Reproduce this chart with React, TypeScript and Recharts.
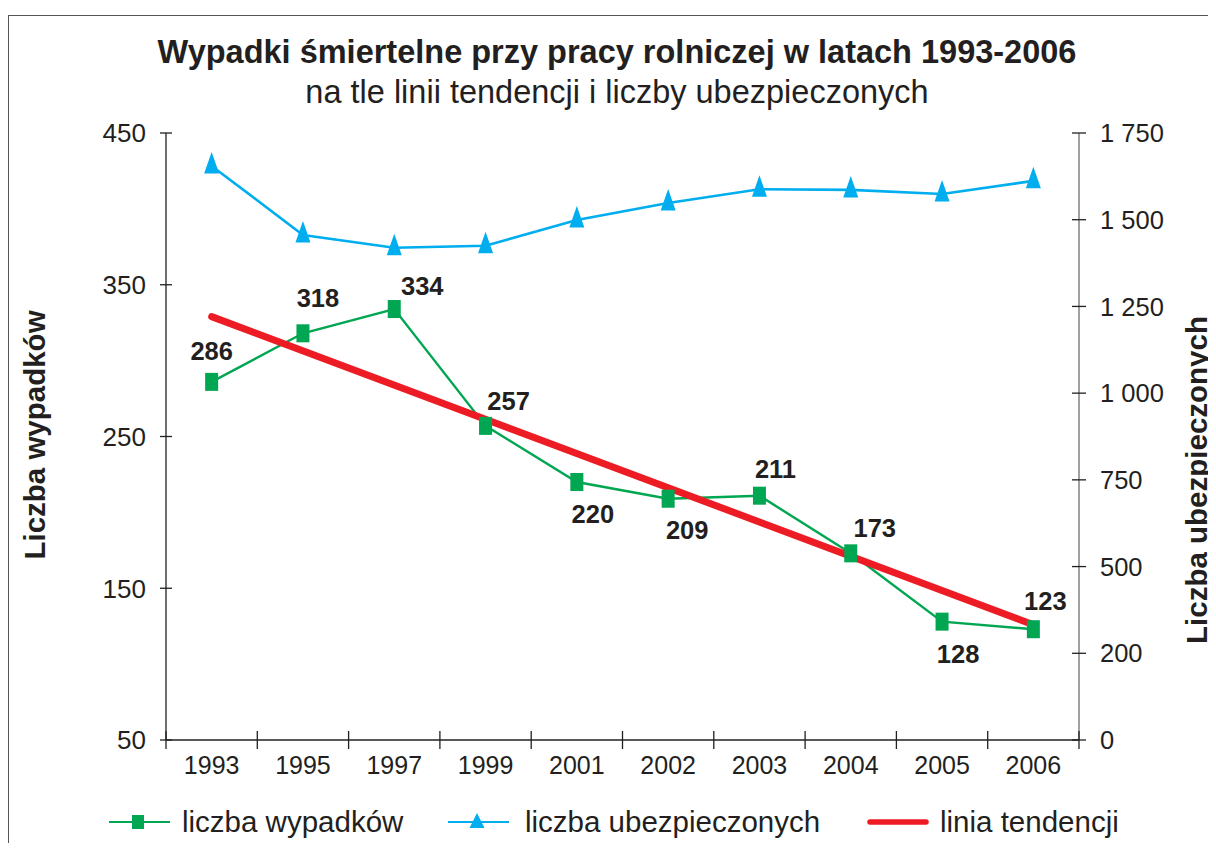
import React from 'react';
import { LineChart, Line, XAxis, YAxis, LabelList } from 'recharts';

const years = ['1993', '1995', '1997', '1999', '2001', '2002', '2003', '2004', '2005', '2006'];
const wypadki = [286, 318, 334, 257, 220, 209, 211, 173, 128, 123];
const ubezpieczeni = [1655, 1456, 1419, 1425, 1499, 1548, 1588, 1586, 1574, 1612];
const tendencja = [329, null, null, null, null, null, null, null, null, 126];

const leftTicks = [50, 150, 250, 350, 450];
const rightTicks = [0, 250, 500, 750, 1000, 1250, 1500, 1750];
const rightTickLabels = ['0', '200', '500', '750', '1 000', '1 250', '1 500', '1 750'];

const data = years.map((rok, i) => ({
  rok,
  wypadki: wypadki[i],
  ubezpieczeni: ubezpieczeni[i],
  tendencja: tendencja[i],
}));

const FONT = '"Liberation Sans", Arial, Helvetica, sans-serif';
const TEXT = '#231f20';
const GREEN = '#00a651';
const BLUE = '#00aeef';
const RED = '#ed1c24';

const W = 1200;
const H = 835;
const MARGIN = { top: 125, right: 69, bottom: 102, left: 98 };
const AXIS_W = 60;
const PLOT_W = W - MARGIN.left - MARGIN.right - 2 * AXIS_W;
const BAND = PLOT_W / years.length;

// label offsets (dx, dy) relative to each point
const labelOffsets = [
  [0, -31], [15, -35], [28, -23], [23, -25], [16, 32],
  [19, 31], [16, -27], [24, -26], [16, 32], [12, -28],
];

function LeftTick(props: any) {
  const { x, y, payload } = props;
  return (
    <g>
      <line x1={x - 6} x2={x + 6} y1={y} y2={y} stroke={TEXT} strokeWidth={1.3} />
      <text x={x - 20} y={y} dy="0.36em" textAnchor="end" fontSize={26} fill={TEXT} fontFamily={FONT}>
        {payload.value}
      </text>
    </g>
  );
}

function RightTick(props: any) {
  const { x, y, payload } = props;
  const label = rightTickLabels[rightTicks.indexOf(payload.value)];
  return (
    <g>
      <line x1={x - 7} x2={x + 7} y1={y} y2={y} stroke={TEXT} strokeWidth={1.3} />
      <text x={x + 21} y={y} dy="0.36em" textAnchor="start" fontSize={25.5} fill={TEXT} fontFamily={FONT}>
        {label}
      </text>
    </g>
  );
}

function BottomTick(props: any) {
  const { x, y, payload, index } = props;
  const left = x - BAND / 2;
  const right = x + BAND / 2;
  return (
    <g>
      <line x1={left} x2={left} y1={y - 9} y2={y + 9} stroke={TEXT} strokeWidth={1.3} />
      {index === years.length - 1 && (
        <line x1={right} x2={right} y1={y - 9} y2={y + 9} stroke={TEXT} strokeWidth={1.3} />
      )}
      <text x={x} y={y + 25} dy="0.36em" textAnchor="middle" fontSize={25} fill={TEXT} fontFamily={FONT}>
        {payload.value}
      </text>
    </g>
  );
}

function SquareDot(props: any) {
  const { cx, cy, index } = props;
  if (cx == null || cy == null) return <g key={`sq-${index}`} />;
  return <rect key={`sq-${index}`} x={cx - 6.5} y={cy - 9} width={13} height={18} fill={GREEN} />;
}

function TriangleDot(props: any) {
  const { cx, cy, index } = props;
  if (cx == null || cy == null) return <g key={`tr-${index}`} />;
  return (
    <polygon
      key={`tr-${index}`}
      points={`${cx},${cy - 14} ${cx - 7.5},${cy + 7.5} ${cx + 7.5},${cy + 7.5}`}
      fill={BLUE}
    />
  );
}

function ValueLabel(props: any) {
  const { x, y, value, index } = props;
  const [dx, dy] = labelOffsets[index] || [0, -30];
  return (
    <text
      x={x + dx}
      y={y + dy}
      dy="0.36em"
      textAnchor="middle"
      fontSize={25.5}
      fontWeight="bold"
      fill={TEXT}
      fontFamily={FONT}
    >
      {value}
    </text>
  );
}

function LegendItem({ left, color, marker, label }: { left: number; color: string; marker: string; label: string }) {
  return (
    <div style={{ position: 'absolute', left, top: 814, transform: 'translateY(-50%)', display: 'flex', alignItems: 'center' }}>
      <svg width={62} height={22} style={{ overflow: 'visible' }}>
        {marker === 'thick' ? (
          <line x1={3} x2={59} y1={11} y2={11} stroke={color} strokeWidth={5.5} strokeLinecap="round" />
        ) : (
          <line x1={0} x2={61} y1={11} y2={11} stroke={color} strokeWidth={2.2} />
        )}
        {marker === 'square' && <rect x={23} y={4} width={12} height={14} fill={color} />}
        {marker === 'triangle' && <polygon points="29,2 21.5,17 36.5,17" fill={color} />}
      </svg>
      <span style={{ marginLeft: marker === 'triangle' ? 15 : 11, fontSize: 29.5, color: TEXT, whiteSpace: 'nowrap' }}>
        {label}
      </span>
    </div>
  );
}

const rotated: React.CSSProperties = {
  position: 'absolute',
  left: 0,
  top: 0,
  transform: 'translate(-50%, -50%) rotate(-90deg)',
  whiteSpace: 'nowrap',
  fontSize: 29.5,
  fontWeight: 'bold',
  color: TEXT,
};

export default function App() {
  return (
    <div style={{ position: 'relative', width: 1208, height: H, overflow: 'hidden', fontFamily: FONT, background: '#fff' }}>
      <div
        style={{
          position: 'absolute',
          left: 0,
          top: 7,
          width: 1300,
          height: 1000,
          borderLeft: '1.5px solid #555',
          borderTop: '1.5px solid #555',
        }}
      />
      <div style={{ position: 'absolute', left: 0, width: 1218, top: 24, textAlign: 'center', color: TEXT }}>
        <div style={{ fontSize: 32.5, fontWeight: 'bold', lineHeight: '40px' }}>
          Wypadki śmiertelne przy pracy rolniczej w latach 1993-2006
        </div>
        <div style={{ fontSize: 32.5, lineHeight: '40px' }}>na tle linii tendencji i liczby ubezpieczonych</div>
      </div>

      <LineChart width={W} height={H} data={data} margin={MARGIN}>
        <XAxis
          dataKey="rok"
          height={1}
          padding={{ left: BAND / 2, right: BAND / 2 }}
          axisLine={{ stroke: TEXT, strokeWidth: 1.3 }}
          tickLine={false}
          tickSize={0}
          tickMargin={0}
          interval={0}
          tick={<BottomTick />}
        />
        <YAxis
          yAxisId="left"
          orientation="left"
          width={AXIS_W}
          domain={[50, 450]}
          ticks={leftTicks}
          interval={0}
          axisLine={{ stroke: TEXT, strokeWidth: 1.3 }}
          tickLine={false}
          tickSize={0}
          tickMargin={0}
          tick={<LeftTick />}
        />
        <YAxis
          yAxisId="right"
          orientation="right"
          width={AXIS_W}
          domain={[0, 1750]}
          ticks={rightTicks}
          interval={0}
          axisLine={{ stroke: '#6d6e71', strokeWidth: 1.3 }}
          tickLine={false}
          tickSize={0}
          tickMargin={0}
          tick={<RightTick />}
        />
        <Line
          yAxisId="right"
          dataKey="ubezpieczeni"
          stroke={BLUE}
          strokeWidth={2.6}
          dot={TriangleDot}
          activeDot={false}
          isAnimationActive={false}
        />
        <Line
          yAxisId="left"
          dataKey="wypadki"
          stroke={GREEN}
          strokeWidth={2.4}
          dot={SquareDot}
          activeDot={false}
          isAnimationActive={false}
        >
          <LabelList dataKey="wypadki" content={ValueLabel} />
        </Line>
        <Line
          yAxisId="left"
          dataKey="tendencja"
          stroke={RED}
          strokeWidth={7}
          strokeLinecap="round"
          connectNulls
          dot={false}
          activeDot={false}
          isAnimationActive={false}
        />
      </LineChart>

      <div style={{ position: 'absolute', left: 27, top: 427, width: 0, height: 0 }}>
        <div style={rotated}>Liczba wypadków</div>
      </div>
      <div style={{ position: 'absolute', left: 1189, top: 472, width: 0, height: 0 }}>
        <div style={rotated}>Liczba ubezpieczonych</div>
      </div>

      <LegendItem left={101} color={GREEN} marker="square" label="liczba wypadków" />
      <LegendItem left={440} color={BLUE} marker="triangle" label="liczba ubezpieczonych" />
      <LegendItem left={859} color={RED} marker="thick" label="linia tendencji" />
    </div>
  );
}
